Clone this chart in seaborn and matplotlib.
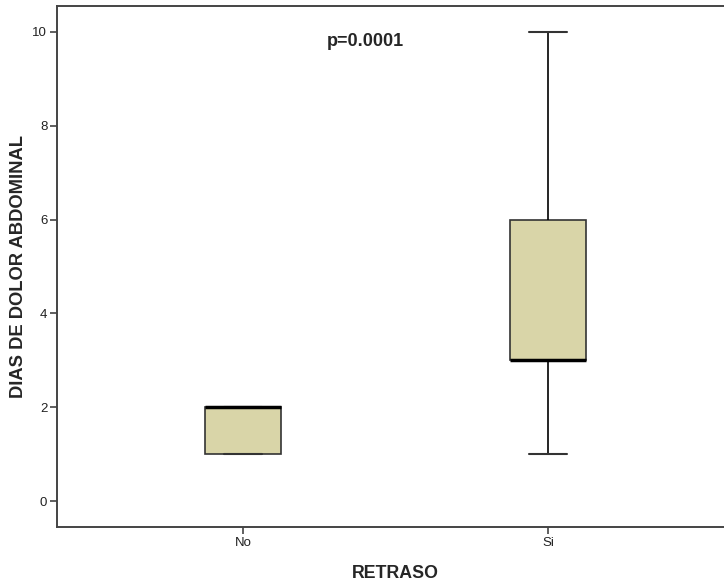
import matplotlib
matplotlib.use("Agg")
import matplotlib.pyplot as plt
import seaborn as sns
import pandas as pd
import numpy as np

# Data (raw values reproducing the box statistics)
retraso_no = [1, 1, 1, 2, 2, 2, 2, 2]
retraso_si = [1, 2, 3, 3, 3, 3, 3, 4, 5, 6, 6, 7, 10]
categories = ["No", "Si"]
y_ticks = [0, 2, 4, 6, 8, 10]
p_text = "p=0.0001"

df = pd.DataFrame({
    "RETRASO": ["No"] * len(retraso_no) + ["Si"] * len(retraso_si),
    "DIAS": retraso_no + retraso_si,
})

sns.set_style("white")
plt.rcParams["font.family"] = ["Liberation Sans", "DejaVu Sans"]

fig = plt.figure(figsize=(7.24, 5.83), dpi=100)
ax = fig.add_axes([57 / 724, 56 / 583, 677 / 724, 521 / 583])

box_width = 0.25
sns.boxplot(
    data=df, x="RETRASO", y="DIAS", order=categories, ax=ax,
    width=box_width, color="#D9D5A8", saturation=1, linecolor="#333333",
    linewidth=1.2, whis=1.5, showfliers=False,
    medianprops=dict(color="black", linewidth=2.5),
    whiskerprops=dict(color="black", linewidth=1.2),
    capprops=dict(color="#333333", linewidth=1.5),
)

# Caps at half the box width (SPSS style): shorten the library's cap lines
for line in ax.lines:
    xd = np.asarray(line.get_xdata(), dtype=float)
    yd = np.asarray(line.get_ydata(), dtype=float)
    if len(xd) == 2 and yd[0] == yd[1]:
        span = abs(xd[1] - xd[0])
        if 0 < span < box_width * 0.95:
            c = xd.mean()
            line.set_xdata([c - box_width / 4, c + box_width / 4])

ax.set_xlim(-0.61, 1.61)
ax.set_ylim(-0.55, 10.55)
ax.set_yticks(y_ticks)
ax.set_yticklabels([str(t) for t in y_ticks])

for s in ["top", "bottom", "left", "right"]:
    ax.spines[s].set_visible(True)
    ax.spines[s].set_color("#444444")
    ax.spines[s].set_linewidth(1.4)

ax.tick_params(axis="both", which="both", direction="out", length=5,
               width=1.2, color="#444444", labelsize=9.5, pad=2,
               labelcolor="#222222", left=True, bottom=True)

ax.set_xlabel("RETRASO", fontsize=12.8, fontweight="bold", labelpad=12)
ax.set_ylabel("DIAS DE DOLOR ABDOMINAL", fontsize=13.2, fontweight="bold", labelpad=4)

ax.text(0.4, 9.79, p_text, ha="center", va="center", fontsize=13, fontweight="bold")

fig.savefig("out.png", dpi=100)
